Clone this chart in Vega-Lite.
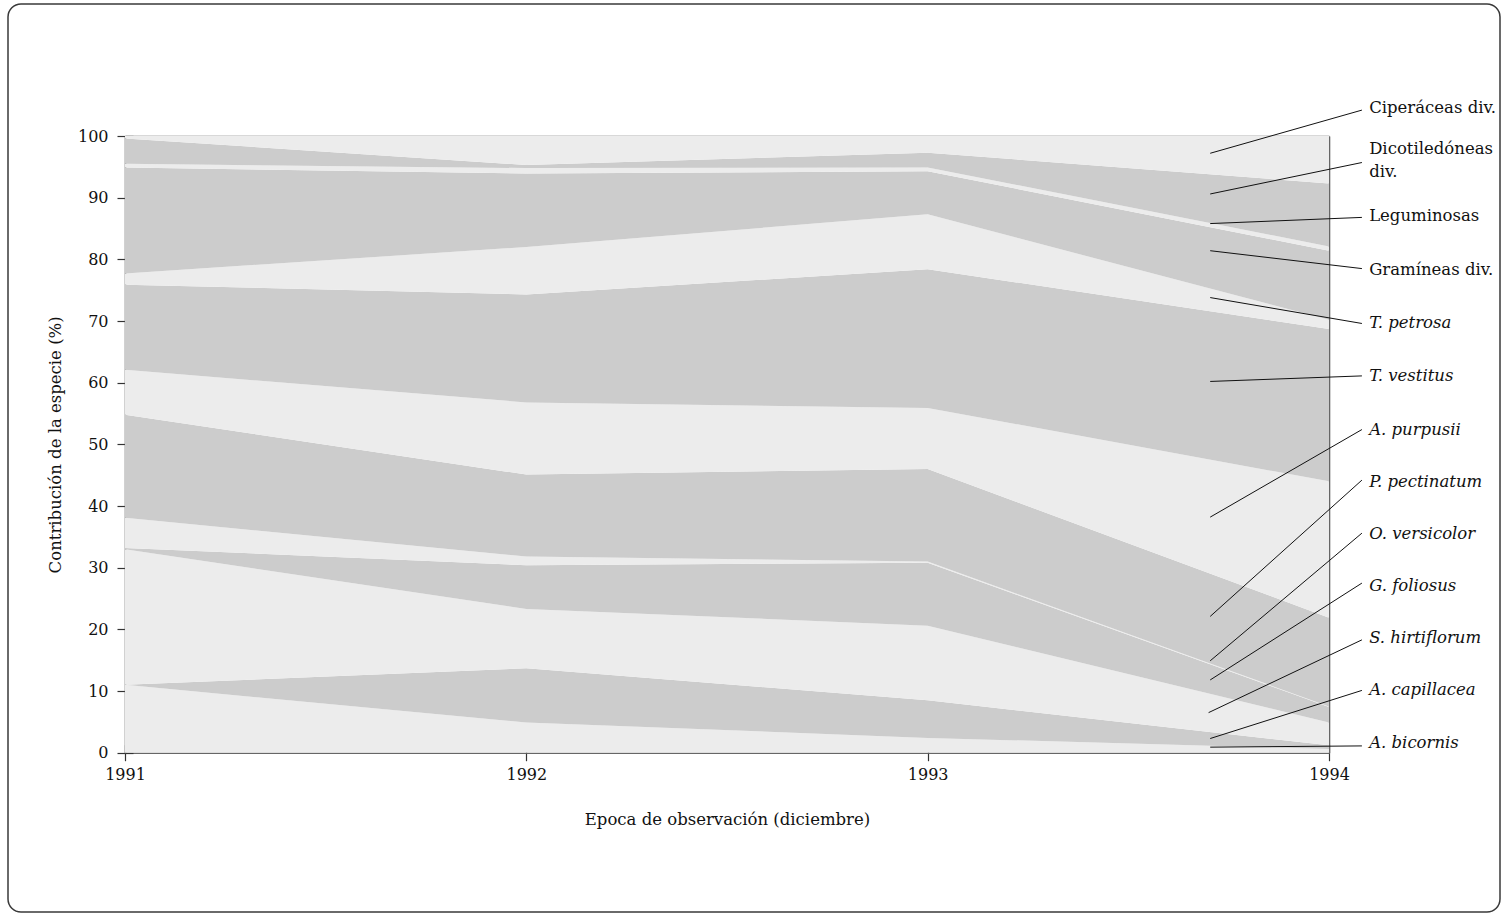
{
  "$schema": "https://vega.github.io/schema/vega-lite/v6.json",
  "width": 1492,
  "height": 908,
  "autosize": {"type": "none"},
  "padding": {"left": 8, "top": 4, "right": 8, "bottom": 4},
  "background": "white",
  "config": {
    "view": {"stroke": "#3a3a3a", "strokeWidth": 1.5, "cornerRadius": 13},
    "font": "DejaVu Serif",
    "axis": {
      "labelFont": "DejaVu Serif",
      "titleFont": "DejaVu Serif",
      "labelFontSize": 16,
      "titleFontSize": 16.5,
      "titleFontWeight": "normal",
      "labelColor": "#111",
      "titleColor": "#111",
      "domainColor": "#666666",
      "domainWidth": 1.6,
      "tickColor": "#333",
      "tickWidth": 1.2,
      "grid": false,
      "zindex": 1
    }
  },
  "datasets": {
    "cobertura": [
      {"anio": 1991, "especie": "A. bicornis", "orden": 1, "valor": 11.0},
      {"anio": 1991, "especie": "A. capillacea", "orden": 2, "valor": 0.0},
      {"anio": 1991, "especie": "S. hirtiflorum", "orden": 3, "valor": 22.0},
      {"anio": 1991, "especie": "G. foliosus", "orden": 4, "valor": 0.2},
      {"anio": 1991, "especie": "O. versicolor", "orden": 5, "valor": 4.9},
      {"anio": 1991, "especie": "P. pectinatum", "orden": 6, "valor": 16.7},
      {"anio": 1991, "especie": "A. purpusii", "orden": 7, "valor": 7.3},
      {"anio": 1991, "especie": "T. vestitus", "orden": 8, "valor": 13.8},
      {"anio": 1991, "especie": "T. petrosa", "orden": 9, "valor": 1.8},
      {"anio": 1991, "especie": "Gramíneas div.", "orden": 10, "valor": 17.2},
      {"anio": 1991, "especie": "Leguminosas", "orden": 11, "valor": 0.6},
      {"anio": 1991, "especie": "Dicotiledóneas div.", "orden": 12, "valor": 4.1},
      {"anio": 1991, "especie": "Ciperáceas div.", "orden": 13, "valor": 0.4},

      {"anio": 1992, "especie": "A. bicornis", "orden": 1, "valor": 4.9},
      {"anio": 1992, "especie": "A. capillacea", "orden": 2, "valor": 8.8},
      {"anio": 1992, "especie": "S. hirtiflorum", "orden": 3, "valor": 9.6},
      {"anio": 1992, "especie": "G. foliosus", "orden": 4, "valor": 7.1},
      {"anio": 1992, "especie": "O. versicolor", "orden": 5, "valor": 1.4},
      {"anio": 1992, "especie": "P. pectinatum", "orden": 6, "valor": 13.3},
      {"anio": 1992, "especie": "A. purpusii", "orden": 7, "valor": 11.7},
      {"anio": 1992, "especie": "T. vestitus", "orden": 8, "valor": 17.5},
      {"anio": 1992, "especie": "T. petrosa", "orden": 9, "valor": 7.7},
      {"anio": 1992, "especie": "Gramíneas div.", "orden": 10, "valor": 11.9},
      {"anio": 1992, "especie": "Leguminosas", "orden": 11, "valor": 0.9},
      {"anio": 1992, "especie": "Dicotiledóneas div.", "orden": 12, "valor": 0.5},
      {"anio": 1992, "especie": "Ciperáceas div.", "orden": 13, "valor": 4.7},

      {"anio": 1993, "especie": "A. bicornis", "orden": 1, "valor": 2.4},
      {"anio": 1993, "especie": "A. capillacea", "orden": 2, "valor": 6.1},
      {"anio": 1993, "especie": "S. hirtiflorum", "orden": 3, "valor": 12.1},
      {"anio": 1993, "especie": "G. foliosus", "orden": 4, "valor": 10.2},
      {"anio": 1993, "especie": "O. versicolor", "orden": 5, "valor": 0.2},
      {"anio": 1993, "especie": "P. pectinatum", "orden": 6, "valor": 15.0},
      {"anio": 1993, "especie": "A. purpusii", "orden": 7, "valor": 9.9},
      {"anio": 1993, "especie": "T. vestitus", "orden": 8, "valor": 22.5},
      {"anio": 1993, "especie": "T. petrosa", "orden": 9, "valor": 8.9},
      {"anio": 1993, "especie": "Gramíneas div.", "orden": 10, "valor": 7.0},
      {"anio": 1993, "especie": "Leguminosas", "orden": 11, "valor": 0.6},
      {"anio": 1993, "especie": "Dicotiledóneas div.", "orden": 12, "valor": 2.4},
      {"anio": 1993, "especie": "Ciperáceas div.", "orden": 13, "valor": 2.7},

      {"anio": 1994, "especie": "A. bicornis", "orden": 1, "valor": 0.6},
      {"anio": 1994, "especie": "A. capillacea", "orden": 2, "valor": 0.6},
      {"anio": 1994, "especie": "S. hirtiflorum", "orden": 3, "valor": 3.7},
      {"anio": 1994, "especie": "G. foliosus", "orden": 4, "valor": 2.5},
      {"anio": 1994, "especie": "O. versicolor", "orden": 5, "valor": 0.1},
      {"anio": 1994, "especie": "P. pectinatum", "orden": 6, "valor": 14.4},
      {"anio": 1994, "especie": "A. purpusii", "orden": 7, "valor": 22.1},
      {"anio": 1994, "especie": "T. vestitus", "orden": 8, "valor": 24.7},
      {"anio": 1994, "especie": "T. petrosa", "orden": 9, "valor": 1.5},
      {"anio": 1994, "especie": "Gramíneas div.", "orden": 10, "valor": 11.2},
      {"anio": 1994, "especie": "Leguminosas", "orden": 11, "valor": 0.7},
      {"anio": 1994, "especie": "Dicotiledóneas div.", "orden": 12, "valor": 10.2},
      {"anio": 1994, "especie": "Ciperáceas div.", "orden": 13, "valor": 7.7}
    ],
    "etiquetas": [
      {"texto": "Ciperáceas div.", "tipo": "grupo", "x_ini": 1993.704, "y_ini": 97.2, "x_fin": 1994.082, "y_fin": 104.2, "x_txt": 1994.1, "y_txt": 104.5},
      {"texto": ["Dicotiledóneas", "div."], "tipo": "grupo", "x_ini": 1993.704, "y_ini": 90.6, "x_fin": 1994.082, "y_fin": 95.7, "x_txt": 1994.1, "y_txt": 97.9},
      {"texto": "Leguminosas", "tipo": "grupo", "x_ini": 1993.704, "y_ini": 85.8, "x_fin": 1994.082, "y_fin": 86.8, "x_txt": 1994.1, "y_txt": 87.0},
      {"texto": "Gramíneas div.", "tipo": "grupo", "x_ini": 1993.704, "y_ini": 81.4, "x_fin": 1994.082, "y_fin": 78.5, "x_txt": 1994.1, "y_txt": 78.3},
      {"texto": "T. petrosa", "tipo": "especie", "x_ini": 1993.704, "y_ini": 73.8, "x_fin": 1994.082, "y_fin": 69.6, "x_txt": 1994.1, "y_txt": 69.7},
      {"texto": "T. vestitus", "tipo": "especie", "x_ini": 1993.704, "y_ini": 60.2, "x_fin": 1994.082, "y_fin": 61.1, "x_txt": 1994.1, "y_txt": 61.1},
      {"texto": "A. purpusii", "tipo": "especie", "x_ini": 1993.704, "y_ini": 38.2, "x_fin": 1994.082, "y_fin": 52.4, "x_txt": 1994.1, "y_txt": 52.3},
      {"texto": "P. pectinatum", "tipo": "especie", "x_ini": 1993.704, "y_ini": 22.1, "x_fin": 1994.082, "y_fin": 44.2, "x_txt": 1994.1, "y_txt": 43.9},
      {"texto": "O. versicolor", "tipo": "especie", "x_ini": 1993.704, "y_ini": 14.9, "x_fin": 1994.082, "y_fin": 35.6, "x_txt": 1994.1, "y_txt": 35.5},
      {"texto": "G. foliosus", "tipo": "especie", "x_ini": 1993.704, "y_ini": 11.8, "x_fin": 1994.082, "y_fin": 27.5, "x_txt": 1994.1, "y_txt": 27.0},
      {"texto": "S. hirtiflorum", "tipo": "especie", "x_ini": 1993.7, "y_ini": 6.5, "x_fin": 1994.082, "y_fin": 18.3, "x_txt": 1994.1, "y_txt": 18.6},
      {"texto": "A. capillacea", "tipo": "especie", "x_ini": 1993.704, "y_ini": 2.3, "x_fin": 1994.082, "y_fin": 10.1, "x_txt": 1994.1, "y_txt": 10.2},
      {"texto": "A. bicornis", "tipo": "especie", "x_ini": 1993.704, "y_ini": 0.9, "x_fin": 1994.082, "y_fin": 1.1, "x_txt": 1994.1, "y_txt": 1.6}
    ]
  },
  "layer": [
    {
      "data": {"name": "cobertura"},
      "mark": {"type": "area", "interpolate": "linear"},
      "encoding": {
        "x": {
          "field": "anio", "type": "quantitative",
          "scale": {"domain": [1991, 1994], "range": [117, 1321], "nice": false, "zero": false},
          "axis": {
            "orient": "bottom", "offset": -159.3, "values": [1991, 1992, 1993, 1994], "format": "d",
            "title": "Epoca de observación (diciembre)",
            "tickSize": 8, "labelPadding": 6, "titlePadding": 29, "labelFlush": false
          }
        },
        "y": {
          "field": "valor", "type": "quantitative", "stack": "zero",
          "scale": {"domain": [0, 100], "range": [748.7, 132], "nice": false},
          "axis": {
            "orient": "left", "offset": -117, "values": [0, 10, 20, 30, 40, 50, 60, 70, 80, 90, 100],
            "title": "Contribución de la especie (%)",
            "tickSize": 8, "labelPadding": 9, "titlePadding": 14
          }
        },
        "color": {
          "field": "especie", "type": "nominal", "legend": null,
          "scale": {
            "domain": ["A. bicornis", "A. capillacea", "S. hirtiflorum", "G. foliosus", "O. versicolor", "P. pectinatum", "A. purpusii", "T. vestitus", "T. petrosa", "Gramíneas div.", "Leguminosas", "Dicotiledóneas div.", "Ciperáceas div."],
            "range": ["#ececec", "#cccccc", "#ececec", "#cccccc", "#ececec", "#cccccc", "#ececec", "#cccccc", "#ececec", "#cccccc", "#ececec", "#cccccc", "#ececec"]
          }
        },
        "order": {"field": "orden", "type": "quantitative", "sort": "ascending"}
      }
    },
    {
      "data": {"name": "etiquetas"},
      "mark": {"type": "rule", "color": "#111", "strokeWidth": 1},
      "encoding": {
        "x": {"field": "x_ini", "type": "quantitative", "axis": {"orient": "top", "offset": -132, "ticks": false, "labels": false, "domain": true, "title": null}},
        "y": {"field": "y_ini", "type": "quantitative", "axis": {"orient": "right", "offset": -171, "ticks": false, "labels": false, "domain": true, "title": null}},
        "x2": {"field": "x_fin"},
        "y2": {"field": "y_fin"}
      }
    },
    {
      "data": {"name": "etiquetas"},
      "transform": [{"filter": "datum.tipo === 'grupo'"}],
      "mark": {"type": "text", "align": "left", "baseline": "middle", "fontSize": 16.5, "font": "DejaVu Serif", "color": "#111", "lineHeight": 23},
      "encoding": {
        "x": {"field": "x_txt", "type": "quantitative", "axis": {"orient": "bottom", "offset": -159.3, "values": [1991, 1992, 1993, 1994], "tickSize": -8, "labels": false, "domain": false, "title": null}},
        "y": {"field": "y_txt", "type": "quantitative", "axis": {"orient": "left", "offset": -117, "values": [0, 10, 20, 30, 40, 50, 60, 70, 80, 90, 100], "tickSize": -8, "labels": false, "domain": false, "title": null}},
        "text": {"field": "texto"}
      }
    },
    {
      "data": {"name": "etiquetas"},
      "transform": [{"filter": "datum.tipo === 'especie'"}],
      "mark": {"type": "text", "align": "left", "baseline": "middle", "fontSize": 16.5, "font": "DejaVu Serif", "fontStyle": "italic", "color": "#111"},
      "encoding": {
        "x": {"field": "x_txt", "type": "quantitative", "axis": null},
        "y": {"field": "y_txt", "type": "quantitative", "axis": null},
        "text": {"field": "texto"}
      }
    }
  ],
  "resolve": {"axis": {"x": "independent", "y": "independent"}}
}
